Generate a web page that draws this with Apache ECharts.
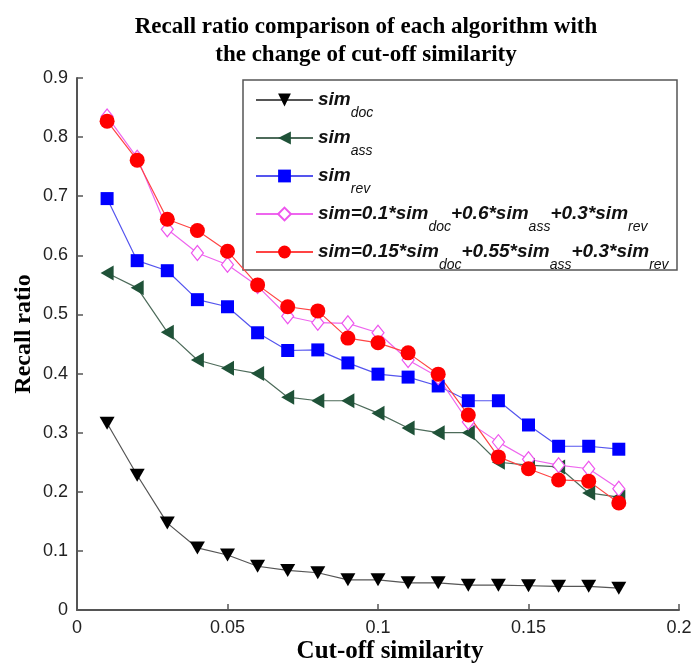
<!DOCTYPE html>
<html>
<head>
<meta charset="utf-8">
<script src="https://cdn.jsdelivr.net/npm/echarts@6/dist/echarts.min.js"></script>
<style>
  html, body { margin: 0; padding: 0; background: #fff; }
  #chart { width: 692px; height: 663px; }
</style>
</head>
<body>
<div id="chart"></div>
<script>
// cut-off similarity values (x axis)
var cutoff = [0.01, 0.02, 0.03, 0.04, 0.05, 0.06, 0.07, 0.08, 0.09, 0.10, 0.11, 0.12, 0.13, 0.14, 0.15, 0.16, 0.17, 0.18];

// recall ratio
var simDoc = [0.316, 0.228, 0.147, 0.105, 0.093, 0.074, 0.067, 0.063, 0.051, 0.051, 0.046, 0.046, 0.042, 0.042, 0.041, 0.040, 0.040, 0.037];
var simAss = [0.570, 0.545, 0.470, 0.423, 0.409, 0.400, 0.360, 0.354, 0.354, 0.333, 0.308, 0.300, 0.300, 0.250, 0.245, 0.242, 0.198, 0.191];
var simRev = [0.696, 0.591, 0.574, 0.525, 0.513, 0.469, 0.439, 0.440, 0.418, 0.399, 0.394, 0.379, 0.354, 0.354, 0.313, 0.277, 0.277, 0.272];
var simMix1 = [0.835, 0.765, 0.644, 0.604, 0.584, 0.548, 0.497, 0.486, 0.485, 0.469, 0.423, 0.394, 0.318, 0.284, 0.255, 0.245, 0.239, 0.205];
var simMix2 = [0.827, 0.761, 0.661, 0.642, 0.607, 0.550, 0.513, 0.506, 0.460, 0.452, 0.435, 0.399, 0.330, 0.259, 0.239, 0.220, 0.218, 0.181];

var seriesNames = ['sim_doc', 'sim_ass', 'sim_rev', 'mix1', 'mix2'];
var legendLabels = {
  sim_doc: '{m|sim}{s|doc}',
  sim_ass: '{m|sim}{s|ass}',
  sim_rev: '{m|sim}{s|rev}',
  mix1: '{m|sim=0.1*sim}{s|doc}{m|+0.6*sim}{s|ass}{m|+0.3*sim}{s|rev}',
  mix2: '{m|sim=0.15*sim}{s|doc}{m|+0.55*sim}{s|ass}{m|+0.3*sim}{s|rev}'
};

function pairs(ys) {
  return cutoff.map(function (x, i) { return [x, ys[i]]; });
}

var myChart = echarts.init(document.getElementById('chart'));
var option = {
  backgroundColor: '#fff',
  animation: false,
  title: {
    text: 'Recall ratio comparison of each algorithm with\nthe change of cut-off similarity',
    left: 361,
    top: 8,
    textAlign: 'center',
    textStyle: {
      fontFamily: 'Liberation Serif',
      fontWeight: 'bold',
      fontSize: 23,
      lineHeight: 28,
      color: '#000'
    }
  },
  // legend frame
  graphic: [{
    type: 'rect',
    z: 3,
    shape: { x: 243, y: 80, width: 434, height: 190 },
    style: { fill: '#fff', stroke: '#555', lineWidth: 1.5 }
  }],
  legend: {
    orient: 'vertical',
    left: 255,
    top: 80,
    data: seriesNames,
    padding: 0,
    itemWidth: 57,
    itemHeight: 16,
    itemGap: -2,
    formatter: function (name) { return legendLabels[name]; },
    textStyle: {
      color: '#111',
      rich: {
        m: { fontFamily: 'Liberation Sans', fontStyle: 'italic', fontWeight: 'bold', fontSize: 19, lineHeight: 20 },
        s: { fontFamily: 'Liberation Sans', fontStyle: 'italic', fontSize: 14, lineHeight: 20, padding: [26, 0, 0, 0] }
      }
    }
  },
  grid: { left: 77, right: 13, top: 78, bottom: 53, outerBoundsMode: 'none' },
  xAxis: {
    type: 'value',
    min: 0,
    max: 0.2,
    interval: 0.05,
    name: 'Cut-off similarity',
    nameLocation: 'middle',
    nameGap: 29,
    nameMoveOverlap: false,
    nameTextStyle: { fontFamily: 'Liberation Serif', fontWeight: 'bold', fontSize: 25, color: '#000', padding: [0, 0, 0, 24] },
    axisLine: { lineStyle: { color: '#555', width: 2 } },
    axisTick: { inside: true, length: 6, lineStyle: { color: '#555', width: 1.5 } },
    axisLabel: { fontFamily: 'Liberation Sans', fontSize: 18, color: '#222', margin: 9 },
    splitLine: { show: false }
  },
  yAxis: {
    type: 'value',
    min: 0,
    max: 0.9,
    interval: 0.1,
    name: 'Recall ratio',
    nameLocation: 'middle',
    nameGap: 41,
    nameMoveOverlap: false,
    nameTextStyle: { fontFamily: 'Liberation Serif', fontWeight: 'bold', fontSize: 24, color: '#000', padding: [0, 0, 0, 20] },
    axisLine: { show: true, lineStyle: { color: '#555', width: 2 } },
    axisTick: { show: true, inside: true, length: 6, lineStyle: { color: '#555', width: 1.5 } },
    axisLabel: { fontFamily: 'Liberation Sans', fontSize: 18, color: '#222', margin: 9 },
    splitLine: { show: false }
  },
  series: [
    {
      name: 'sim_doc', type: 'line', data: pairs(simDoc),
      symbol: 'triangle', symbolRotate: 180, symbolSize: [15, 13],
      itemStyle: { color: '#000' },
      lineStyle: { color: '#555', width: 1.2 }
    },
    {
      name: 'sim_ass', type: 'line', data: pairs(simAss),
      symbol: 'triangle', symbolRotate: 90, symbolSize: [15, 13],
      itemStyle: { color: '#1f5238' },
      lineStyle: { color: '#4d6b5a', width: 1.2 }
    },
    {
      name: 'sim_rev', type: 'line', data: pairs(simRev),
      symbol: 'rect', symbolSize: 13,
      itemStyle: { color: '#0000ff' },
      lineStyle: { color: '#5555ee', width: 1.2 }
    },
    {
      name: 'mix1', type: 'line', data: pairs(simMix1),
      symbol: 'diamond', symbolSize: [12, 15],
      itemStyle: { color: '#fff', borderColor: '#ee55ee', borderWidth: 1.2 },
      lineStyle: { color: '#ee66ee', width: 1.2 }
    },
    {
      name: 'mix2', type: 'line', data: pairs(simMix2),
      symbol: 'circle', symbolSize: 15,
      itemStyle: { color: '#ff0000' },
      lineStyle: { color: '#ff4444', width: 1.2 }
    }
  ]
};
myChart.setOption(option);
</script>
</body>
</html>
